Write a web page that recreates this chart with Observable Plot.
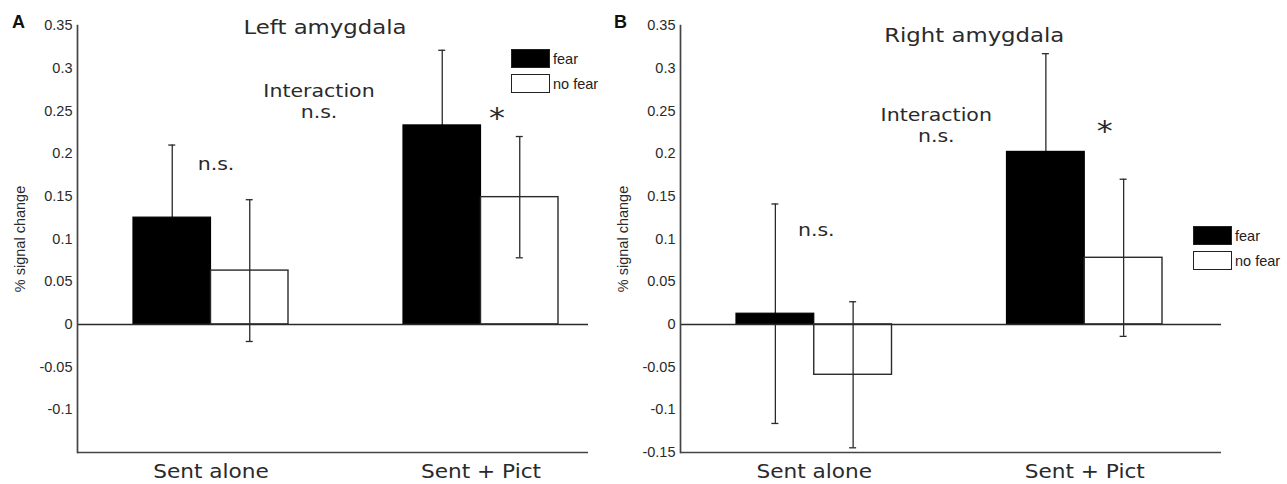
<!DOCTYPE html>
<html>
<head>
<meta charset="utf-8">
<script src="https://cdn.jsdelivr.net/npm/d3@7"></script>
<script src="https://cdn.jsdelivr.net/npm/@observablehq/plot@0.6"></script>
<style>
  html, body { margin: 0; padding: 0; background: #fff; }
  #wrap { position: relative; width: 1287px; height: 484px; overflow: hidden; background: #fff; }
  .panel { position: absolute; top: 0; }
  .letter { position: absolute; font-family: "Liberation Sans", Arial, sans-serif; font-weight: bold; font-size: 18px; color: #111; line-height: 1; }
  .legend { position: absolute; font-family: "Liberation Sans", Arial, sans-serif; font-size: 14.5px; color: #222; }
  .legend .row { display: flex; align-items: center; height: 25px; }
  .legend .sw { width: 37px; height: 17px; border: 1.5px solid #222; box-sizing: content-box; margin-right: 3px; }
</style>
</head>
<body>
<div id="wrap"></div>
<script>
// ---------- data ----------
const categories = ["Sent alone", "Sent + Pict"];
const conditions = ["fear", "no fear"];

const leftFear = [0.125, 0.233];
const leftFearErr = [0.085, 0.088];
const leftNoFear = [0.063, 0.149];
const leftNoFearErr = [0.083, 0.071];

const rightFear = [0.0125, 0.202];
const rightFearErr = [0.1285, 0.115];
const rightNoFear = [-0.059, 0.078];
const rightNoFearErr = [0.0855, 0.092];

const leftTicks = [-0.1, -0.05, 0, 0.05, 0.1, 0.15, 0.2, 0.25, 0.3, 0.35];
const leftTickLabels = ["-0.1", "-0.05", "0", "0.05", "0.1", "0.15", "0.2", "0.25", "0.3", "0.35"];
const rightTicks = [-0.15, -0.1, -0.05, 0, 0.05, 0.1, 0.15, 0.2, 0.25, 0.3, 0.35];
const rightTickLabels = ["-0.15", "-0.1", "-0.05", "0", "0.05", "0.1", "0.15", "0.2", "0.25", "0.3", "0.35"];

const yDomain = [-0.15, 0.35];
const yLabel = "% signal change";
const titles = ["Left amygdala", "Right amygdala"];
const panelLetters = ["A", "B"];

// annotations (text, anchored category, y value)
const leftNotes = [
  {text: "Interaction\nn.s.", category: "Sent alone", y: 0.262, dx: 108, size: 18},
  {text: "n.s.", category: "Sent alone", y: 0.189, dx: 5, size: 18},
  {text: "*", category: "Sent + Pict", y: 0.242, dx: 16, size: 28}
];
const rightNotes = [
  {text: "Interaction\nn.s.", category: "Sent alone", y: 0.234, dx: 122, size: 18},
  {text: "n.s.", category: "Sent alone", y: 0.112, dx: 2, size: 18},
  {text: "*", category: "Sent + Pict", y: 0.227, dx: 20, size: 28}
];

function rows(fear, fearErr, noFear, noFearErr) {
  const out = [];
  categories.forEach((c, i) => {
    out.push({category: c, condition: conditions[0], value: fear[i], err: fearErr[i]});
    out.push({category: c, condition: conditions[1], value: noFear[i], err: noFearErr[i]});
  });
  return out;
}

const INK = "#2a2a2a";
const SANS = "'DejaVu Sans', sans-serif";

function panel(cfg) {
  const {width, height, mL, mR, mT, mB, iL, iR, gap, data, ticks, tickLabels, title, titleDx, titleY, notes} = cfg;
  const rangeW = width - mL - mR - iL - iR;
  const bw = (rangeW - gap) / 2;
  const p = gap / (bw + gap);
  const q = bw / 4;
  const cap = 3.5;
  const fear = data.filter(d => d.condition === conditions[0]);
  const nofear = data.filter(d => d.condition === conditions[1]);
  const ew = 1.3;
  const noteMarks = notes.map(n => Plot.text([n], {x: "category", y: "y", text: "text", dx: n.dx, fontSize: n.size, lineHeight: 1.2, fontFamily: SANS, fill: INK}));
  return Plot.plot({
    width, height,
    marginLeft: mL, marginRight: mR, marginTop: mT, marginBottom: mB,
    style: {fontFamily: "'Liberation Sans', Arial, sans-serif", fontSize: "14.5px", background: "transparent", color: INK, overflow: "visible"},
    x: {type: "band", domain: categories, paddingInner: p, paddingOuter: 0, insetLeft: iL, insetRight: iR, round: false, axis: null},
    y: {domain: yDomain, axis: null},
    marks: [
      // fear error bars first so the part inside the black bar is hidden
      Plot.ruleX(fear, {x: "category", y1: d => d.value - d.err, y2: d => d.value + d.err, dx: -q, stroke: INK, strokeWidth: ew}),
      Plot.tickY(fear, {x: "category", y: d => d.value + d.err, insetLeft: q - cap, insetRight: bw - q - cap, stroke: INK, strokeWidth: ew}),
      Plot.tickY(fear, {x: "category", y: d => d.value - d.err, insetLeft: q - cap, insetRight: bw - q - cap, stroke: INK, strokeWidth: ew}),
      Plot.barY(fear, {x: "category", y: "value", fill: "black", stroke: "black", strokeWidth: 1.2, insetRight: bw / 2}),
      Plot.barY(nofear, {x: "category", y: "value", fill: "white", stroke: INK, strokeWidth: 1.4, insetLeft: bw / 2}),
      Plot.ruleY([0], {stroke: INK, strokeWidth: 1.5}),
      Plot.ruleY([yDomain[0]], {stroke: "#444", strokeWidth: 1.7}),
      Plot.frame({anchor: "left", stroke: "#444", strokeWidth: 1.7}),
      Plot.ruleX(nofear, {x: "category", y1: d => d.value - d.err, y2: d => d.value + d.err, dx: q, stroke: INK, strokeWidth: ew}),
      Plot.tickY(nofear, {x: "category", y: d => d.value + d.err, insetLeft: bw - q - cap, insetRight: q - cap, stroke: INK, strokeWidth: ew}),
      Plot.tickY(nofear, {x: "category", y: d => d.value - d.err, insetLeft: bw - q - cap, insetRight: q - cap, stroke: INK, strokeWidth: ew}),
      Plot.axisY({ticks, tickFormat: (d) => tickLabels[ticks.indexOf(d)], tickSize: 0, tickPadding: 5, fontSize: 14.5,
        label: yLabel, labelAnchor: "center", labelArrow: "none", labelOffset: 63}),
      Plot.axisX({tickSize: 0, tickPadding: 12, fontSize: 19, fontFamily: SANS, fill: INK, label: null}),
      Plot.text([title], {x: () => categories[0], y: () => titleY, text: d => d, dx: titleDx, fontSize: 20, fontFamily: SANS, fill: INK}),
      ...noteMarks
    ]
  });
}

// widen the DejaVu texts slightly (the reference lettering is a wider face)
function widen(svg, s) {
  svg.querySelectorAll('g[font-family*="DejaVu"] text').forEach(t => {
    let tr = t.getAttribute("transform");
    if (!tr) {
      const x = +t.getAttribute("x") || 0, y = +t.getAttribute("y") || 0;
      t.removeAttribute("x"); t.removeAttribute("y");
      tr = `translate(${x},${y})`;
    }
    t.setAttribute("transform", tr + ` scale(${s},1)`);
  });
}

const wrap = document.getElementById("wrap");

const leftSvg = panel({
  width: 600, height: 484, mL: 77, mR: 12, mT: 25, mB: 32, iL: 56, iR: 30, gap: 115,
  data: rows(leftFear, leftFearErr, leftNoFear, leftNoFearErr),
  ticks: leftTicks, tickLabels: leftTickLabels, title: titles[0], titleDx: 114, titleY: 0.347, notes: leftNotes
});
const rightSvg = panel({
  width: 687, height: 484, mL: 80, mR: 66, mT: 25, mB: 32, iL: 56, iR: 59, gap: 115,
  data: rows(rightFear, rightFearErr, rightNoFear, rightNoFearErr),
  ticks: rightTicks, tickLabels: rightTickLabels, title: titles[1], titleDx: 160, titleY: 0.338, notes: rightNotes
});
widen(leftSvg, 1.14);
widen(rightSvg, 1.14);

leftSvg.classList.add("panel"); leftSvg.style.left = "0px";
rightSvg.classList.add("panel"); rightSvg.style.left = "600px";
wrap.appendChild(leftSvg);
wrap.appendChild(rightSvg);

function addLetter(t, x, y) {
  const d = document.createElement("div");
  d.className = "letter"; d.textContent = t;
  d.style.left = x + "px"; d.style.top = y + "px";
  wrap.appendChild(d);
}
addLetter(panelLetters[0], 12, 13);
addLetter(panelLetters[1], 614, 13);

function addLegend(x, y) {
  const lg = document.createElement("div");
  lg.className = "legend";
  lg.style.left = x + "px"; lg.style.top = y + "px";
  const fills = ["black", "white"];
  conditions.forEach((c, i) => {
    const r = document.createElement("div"); r.className = "row";
    const sw = document.createElement("div"); sw.className = "sw"; sw.style.background = fills[i];
    const tx = document.createElement("span"); tx.textContent = c;
    r.appendChild(sw); r.appendChild(tx); lg.appendChild(r);
  });
  wrap.appendChild(lg);
}
addLegend(511, 46);
addLegend(1193, 223);
</script>
</body>
</html>
